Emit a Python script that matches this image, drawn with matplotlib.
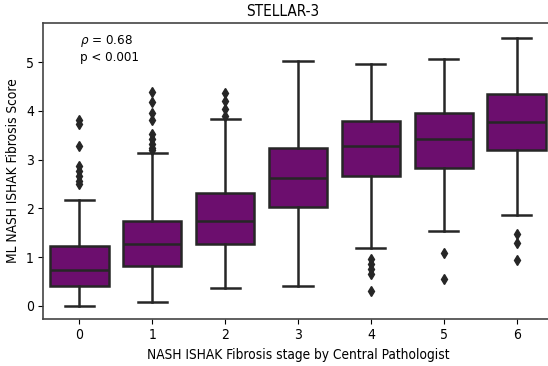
import matplotlib
matplotlib.use("Agg")
import matplotlib.pyplot as plt

# data (box stats per fibrosis stage)
stages = ["0", "1", "2", "3", "4", "5", "6"]
medians = [0.74, 1.26, 1.74, 2.63, 3.28, 3.42, 3.76]
q1 = [0.41, 0.81, 1.26, 2.03, 2.66, 2.83, 3.19]
q3 = [1.22, 1.74, 2.31, 3.24, 3.79, 3.96, 4.34]
whis_lo = [0.0, 0.08, 0.36, 0.41, 1.19, 1.54, 1.86]
whis_hi = [2.17, 3.14, 3.83, 5.02, 4.95, 5.06, 5.49]
fliers = [
    [2.50, 2.56, 2.66, 2.77, 2.87, 3.28, 3.72, 3.82],
    [3.20, 3.24, 3.31, 3.42, 3.52, 3.81, 3.96, 4.17, 4.39],
    [3.89, 4.03, 4.20, 4.37],
    [],
    [0.96, 0.85, 0.75, 0.65, 0.31],
    [1.09, 0.55],
    [1.47, 1.28, 0.94],
]

box_color = "#6c0e6e"
line_color = "#262626"

plt.rcParams["font.family"] = "DejaVu Sans"
plt.rcParams["font.stretch"] = "condensed"

stats = []
for i in range(len(stages)):
    stats.append(dict(med=medians[i], q1=q1[i], q3=q3[i],
                      whislo=whis_lo[i], whishi=whis_hi[i],
                      fliers=fliers[i], label=stages[i]))

fig = plt.figure(figsize=(5.48, 3.66), dpi=100)
ax = fig.add_axes([43 / 548, 47 / 366, 510 / 548, 296 / 366])

line = dict(color=line_color, linewidth=1.8)
ax.bxp(stats, positions=range(len(stages)), widths=0.8, patch_artist=True,
       boxprops=dict(facecolor=box_color, edgecolor=line_color, linewidth=1.8),
       medianprops=line, whiskerprops=line, capprops=line,
       flierprops=dict(marker="d", markerfacecolor=line_color,
                       markeredgecolor=line_color, markersize=5.5))

ax.set_xlim(-0.5, 6.5)
ax.set_ylim(-0.27, 5.8)
ax.set_yticks([0, 1, 2, 3, 4, 5])
ax.set_xticks(range(len(stages)))
ax.set_xticklabels(stages)
ax.tick_params(labelsize=10, pad=3)

fig.text(283 / 548, 1 - 12 / 366, "STELLAR-3", fontsize=11,
         ha="center", va="center")
ax.set_xlabel("NASH ISHAK Fibrosis stage by Central Pathologist", fontsize=9.8)
ax.set_ylabel("ML NASH ISHAK Fibrosis Score", fontsize=9.8)

ax.text(0.072, 0.965, "$\\rho$ = 0.68\np < 0.001", transform=ax.transAxes,
        fontsize=9.5, va="top", ha="left")

for s in ax.spines.values():
    s.set_color("#444444")
    s.set_linewidth(1.2)

fig.savefig("out.png", dpi=100)
